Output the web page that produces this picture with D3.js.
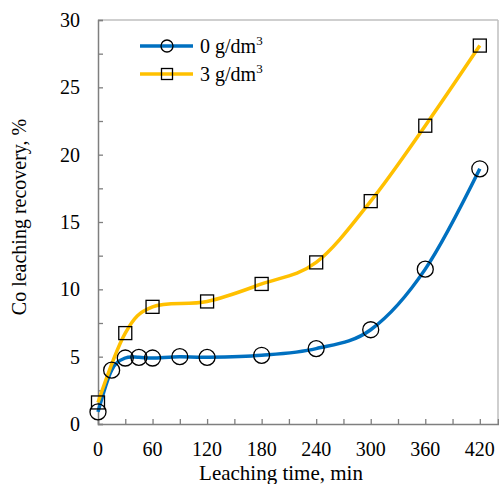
<!DOCTYPE html>
<html><head><meta charset="utf-8">
<script src="https://cdn.jsdelivr.net/npm/d3@7/dist/d3.min.js"></script>
<style>body{margin:0;background:#fff}svg{display:block;font-family:"Liberation Serif","Times New Roman",serif}</style>
</head><body><svg id="c" width="499" height="484"></svg>
<script>
const times0 = [0, 15, 30, 45, 60, 90, 120, 180, 240, 300, 360, 420];
const rec0 = [0.9, 4.0, 4.9, 4.95, 4.9, 5.0, 4.95, 5.1, 5.6, 7.0, 11.5, 18.95];
const times3 = [0, 30, 60, 120, 180, 240, 300, 360, 420];
const rec3 = [1.6, 6.75, 8.7, 9.1, 10.4, 12.0, 16.55, 22.15, 28.1];
const xTicks = [0, 60, 120, 180, 240, 300, 360, 420];
const yTicks = [0, 5, 10, 15, 20, 25, 30];
const seriesNames = ["0 g/dm", "3 g/dm"];

const svg = d3.select("#c");
const L = 98, R = 498, T = 20, B = 424;
const x = d3.scaleLinear().domain([0, 440]).range([L, R]);
const y = d3.scaleLinear().domain([0, 30]).range([B, T]);

// frame
svg.append("line").attr("x1", L).attr("x2", R).attr("y1", T).attr("y2", T).attr("stroke", "#bfbfbf").attr("stroke-width", 1.5);
svg.append("line").attr("x1", R).attr("x2", R).attr("y1", T).attr("y2", B).attr("stroke", "#bfbfbf").attr("stroke-width", 1.5);

// axes
const xMinor = d3.range(0, 441, 30);
const yMinor = d3.range(0, 30.01, 2.5);
const gx = svg.append("g").attr("transform", `translate(0,${B})`)
  .call(d3.axisBottom(x).tickValues(xMinor).tickSize(-5).tickFormat(""));
const gy = svg.append("g").attr("transform", `translate(${L},0)`)
  .call(d3.axisLeft(y).tickValues(yMinor).tickSize(-5).tickFormat(""));
[gx, gy].forEach(g => {
  g.select(".domain").attr("stroke", "#7f7f7f").attr("stroke-width", 1.5);
  g.selectAll(".tick line").attr("stroke", "#7f7f7f").attr("stroke-width", 1.3);
});

// tick labels
svg.append("g").selectAll("text").data(xTicks).join("text")
  .attr("x", d => x(d)).attr("y", 456).attr("text-anchor", "middle")
  .attr("font-size", 20).attr("fill", "#000").text(d => d);
svg.append("g").selectAll("text").data(yTicks).join("text")
  .attr("x", 80).attr("y", d => y(d) + 7).attr("text-anchor", "end")
  .attr("font-size", 20).attr("fill", "#000").text(d => d);

// axis titles
svg.append("text").attr("x", 281).attr("y", 480).attr("text-anchor", "middle")
  .attr("font-size", 21).text("Leaching time, min");
svg.append("text").attr("transform", "translate(26,217) rotate(-90)").attr("text-anchor", "middle")
  .attr("font-size", 20).text("Co leaching recovery, %");

const line = d3.line().x(d => x(d[0])).y(d => y(d[1])).curve(d3.curveCardinal.tension(0));
const d0 = times0.map((t, i) => [t, rec0[i]]);
const d3s = times3.map((t, i) => [t, rec3[i]]);

svg.append("path").datum(d0).attr("d", line).attr("fill", "none").attr("stroke", "#0070C0").attr("stroke-width", 3.5);
svg.append("path").datum(d3s).attr("d", line).attr("fill", "none").attr("stroke", "#FFC000").attr("stroke-width", 3.5);

svg.append("g").selectAll("circle").data(d0).join("circle")
  .attr("cx", d => x(d[0])).attr("cy", d => y(d[1])).attr("r", 8)
  .attr("fill", "none").attr("stroke", "#000").attr("stroke-width", 1.3);
svg.append("g").selectAll("rect").data(d3s).join("rect")
  .attr("x", d => x(d[0]) - 6.5).attr("y", d => y(d[1]) - 6.5).attr("width", 13).attr("height", 13)
  .attr("fill", "none").attr("stroke", "#000").attr("stroke-width", 1.3);

// legend
const lg = svg.append("g");
[["#0070C0", "c"], ["#FFC000", "s"]].forEach((s, i) => {
  const ly = 46 + i * 28;
  lg.append("line").attr("x1", 140).attr("x2", 193).attr("y1", ly).attr("y2", ly).attr("stroke", s[0]).attr("stroke-width", 3.5);
  if (s[1] === "c") lg.append("circle").attr("cx", 167).attr("cy", ly).attr("r", 6).attr("fill", "none").attr("stroke", "#000").attr("stroke-width", 1.3);
  else lg.append("rect").attr("x", 161.5).attr("y", ly - 5.5).attr("width", 11).attr("height", 11).attr("fill", "none").attr("stroke", "#000").attr("stroke-width", 1.3);
  const t = lg.append("text").attr("x", 200).attr("y", ly + 7).attr("font-size", 20).text(seriesNames[i]);
  t.append("tspan").attr("font-size", 13).attr("dy", -8).text("3");
});
</script></body></html>
